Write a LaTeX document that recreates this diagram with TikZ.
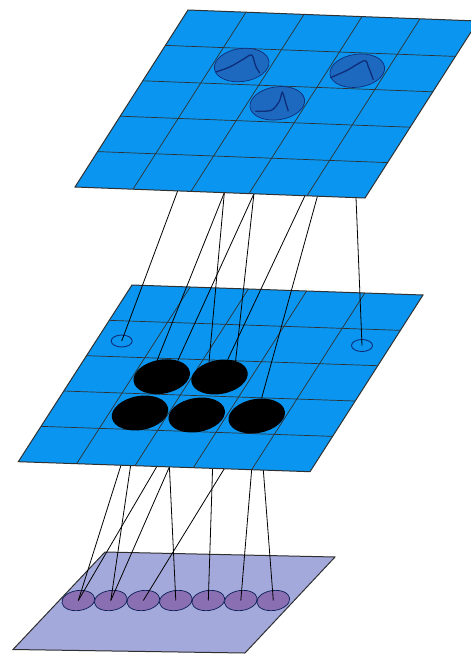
\documentclass[tikz,border=0pt]{standalone}
\usetikzlibrary{calc, shapes.geometric}
\definecolor{sheetBlue}{HTML}{0A96F0}
\definecolor{tunedBlue}{HTML}{1D69C0}
\definecolor{deepNavy}{HTML}{0E2D7A}
\definecolor{inputLilac}{HTML}{A4A9DC}
\definecolor{unitPurple}{HTML}{8B6FB3}
\definecolor{edgeGrey}{HTML}{303030}

\begin{document}
\begin{tikzpicture}[x=1pt, y=-1pt,
    plane/.style={draw=edgeGrey, line width=1pt},
    grid/.style={draw=edgeGrey, line width=0.7pt},
    tuned/.style={ellipse, draw=deepNavy, fill=tunedBlue, line width=0.7pt,
      minimum width=55pt, minimum height=33pt, inner sep=0pt, rotate=8},
    hole/.style={ellipse, draw=deepNavy, line width=0.9pt,
      minimum width=21pt, minimum height=12pt, inner sep=0pt},
    blob/.style={ellipse, fill=black, minimum width=57pt, minimum height=34pt,
      inner sep=0pt, rotate=10},
    unit/.style={ellipse, draw=deepNavy!70!black, fill=unitPurple, line width=0.7pt,
      minimum width=33pt, minimum height=20pt, inner sep=0pt, rotate=8},
    link/.style={draw=black, line width=0.8pt},
    curve/.style={draw=deepNavy, line width=1.3pt}]
  \useasboundingbox (0,0) rectangle (471,654);

  % input sheet
  \coordinate (bBL) at (13,649.5);
  \coordinate (bBR) at (245,653);
  \coordinate (bTR) at (335,557);
  \coordinate (bTL) at (105,552);
  \filldraw[plane, fill=inputLilac] (bBL) -- (bBR) -- (bTR) -- (bTL) -- cycle;
  \node[unit] (b1) at (78.3,600.5) {};
  \node[unit] (b2) at (110.8,600.5) {};
  \node[unit] (b3) at (143.3,600.5) {};
  \node[unit] (b4) at (175.8,600.5) {};
  \node[unit] (b5) at (208.3,600.5) {};
  \node[unit] (b6) at (240.8,600.5) {};
  \node[unit] (b7) at (273.3,600.5) {};

  % middle sheet
  \coordinate (mBL) at (18.3,461.7);
  \coordinate (mBR) at (310,471.7);
  \coordinate (mTR) at (423,295);
  \coordinate (mTL) at (132,285);
  \coordinate (m1) at ($(mBL)!0.352!(mBR)$);
  \coordinate (m2) at ($(mBL)!0.385!(mBR)$);
  \coordinate (m3) at ($(mBL)!0.475!(mBR)$);
  \coordinate (m4) at ($(mBL)!0.518!(mBR)$);
  \coordinate (m5) at ($(mBL)!0.666!(mBR)$);
  \coordinate (m6) at ($(mBL)!0.706!(mBR)$);
  \coordinate (m7) at ($(mBL)!0.800!(mBR)$);
  \coordinate (m8) at ($(mBL)!0.840!(mBR)$);
  \draw[link] (b1.center) -- (m1);
  \draw[link] (b2.center) -- (m2);
  \draw[link] (b1.center) -- (m3);
  \draw[link] (b2.center) -- (m4);
  \draw[link] (b4.center) -- (m4);
  \draw[link] (b5.center) -- (m5);
  \draw[link] (b3.center) -- (m6);
  \draw[link] (b6.center) -- (m7);
  \draw[link] (b7.center) -- (m8);

  \fill[sheetBlue] (mBL) -- (mBR) -- (mTR) -- (mTL) -- cycle;
  \foreach \k in {1,...,4} {
    \draw[grid] ($(mBL)!\k/5!(mBR)$) -- ($(mTL)!\k/5!(mTR)$);
    \draw[grid] ($(mBL)!\k/5!(mTL)$) -- ($(mBR)!\k/5!(mTR)$);
  }
  \draw[plane] (mBL) -- (mBR) -- (mTR) -- (mTL) -- cycle;
  \node[hole] (hl) at (121.7,341) {};
  \node[hole] (hr) at (362,345.5) {};
  \node[blob] (blobC) at (161.7,376.7) {};
  \node[blob] (blobD) at (219.5,377) {};
  \node[blob] (blobA) at (140,413) {};
  \node[blob] (blobB) at (196.7,415) {};
  \node[blob] (blobE) at (256.7,416) {};

  % top sheet
  \coordinate (tBL) at (75,187);
  \coordinate (tBR) at (365,198);
  \coordinate (tTR) at (478,21);
  \coordinate (tTL) at (188,10);
  \coordinate (s1) at ($(tBL)!0.354!(tBR)$);
  \coordinate (s2) at ($(tBL)!0.515!(tBR)$);
  \coordinate (s3) at ($(tBL)!0.617!(tBR)$);
  \coordinate (s4) at ($(tBL)!0.793!(tBR)$);
  \coordinate (s5) at ($(tBL)!0.836!(tBR)$);
  \coordinate (s6) at ($(tBL)!0.969!(tBR)$);
  \draw[link] (s1) -- (hl.center);
  \draw[link] (s2) -- (blobC.95);
  \draw[link] (s2) -- (blobD.115);
  \draw[link] (s3) -- (blobC.35);
  \draw[link] (s3) -- (blobD.35);
  \draw[link] (s4) -- (blobD);
  \draw[link] (s5) -- (blobE);
  \draw[link] (s6) -- (hr.center);

  \fill[sheetBlue] (tBL) -- (tBR) -- (tTR) -- (tTL) -- cycle;
  \foreach \k in {1,...,4} {
    \draw[grid] ($(tBL)!\k/5!(tBR)$) -- ($(tTL)!\k/5!(tTR)$);
    \draw[grid] ($(tBL)!\k/5!(tTL)$) -- ($(tBR)!\k/5!(tTR)$);
  }
  \draw[plane] (tBL) -- (tBR) -- (tTR) -- (tTL) -- cycle;
  \node[tuned] (g1) at (241.7,65) {};
  \node[tuned] (g2) at (277.3,103.3) {};
  \node[tuned] (g3) at (357.3,70.7) {};
  \draw[curve, shift={(g1.center)}] plot[smooth, tension=0.5]
    coordinates {(-26,7) (-12,2) (2,-6) (10,-10) (14,1) (18,8)};
  \draw[curve, shift={(g2.center)}] plot[smooth, tension=0.5]
    coordinates {(-22,8) (-6,7) (2,-2) (5,-11) (8,-2) (11,8)};
  \draw[curve, shift={(g3.center)}] plot[smooth, tension=0.5]
    coordinates {(-27,7) (-11,0) (7,-10) (11,-4) (16,9)};
\end{tikzpicture}
\end{document}
